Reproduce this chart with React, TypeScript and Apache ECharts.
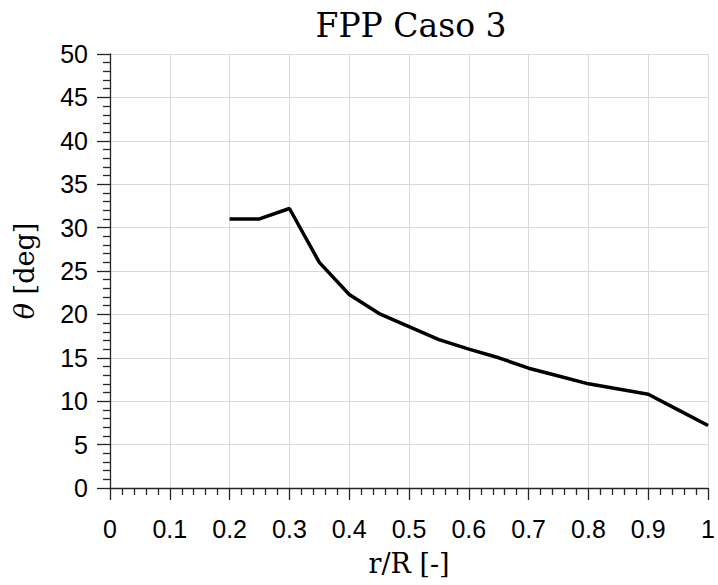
import React, { useEffect, useRef } from "react";
import * as echarts from "echarts";

const rR = [0.2, 0.25, 0.3, 0.35, 0.4, 0.45, 0.5, 0.55, 0.6, 0.65, 0.7, 0.75, 0.8, 0.85, 0.9, 0.95, 1.0];
const theta = [31.0, 31.0, 32.2, 26.0, 22.3, 20.1, 18.6, 17.1, 16.0, 15.0, 13.8, 12.9, 12.0, 11.4, 10.8, 9.0, 7.2];
const titleText = "FPP Caso 3";
const xName = "r/R [-]";

const AX = "#262626";
const GRID = "#d9d9d9";

export default function App() {
  const ref = useRef<HTMLDivElement>(null);
  useEffect(() => {
    if (!ref.current) return;
    const chart = echarts.init(ref.current, null, { renderer: "svg" });
    chart.setOption({
      animation: false,
      backgroundColor: "#ffffff",
      grid: { left: 110, right: 5, top: 54, bottom: 97, containLabel: false },
      graphic: [
        {
          type: "text",
          x: 411,
          y: 25,
          style: {
            text: titleText,
            fontFamily: "DejaVu Serif",
            fontSize: 33,
            fill: "#000",
            align: "center",
            verticalAlign: "middle",
            textAlign: "center",
            textVerticalAlign: "middle",
          },
        },
      ],
      xAxis: {
        type: "value",
        min: 0,
        max: 1,
        interval: 0.1,
        name: xName,
        nameLocation: "middle",
        nameGap: 62,
        nameTextStyle: { fontFamily: "DejaVu Serif", fontSize: 27, color: "#000" },
        axisLine: { show: true, lineStyle: { color: AX, width: 1.3 } },
        axisTick: { show: true, inside: false, length: 12, lineStyle: { color: AX, width: 1.3 } },
        minorTick: { show: true, splitNumber: 5, length: 7, lineStyle: { color: AX, width: 1.3 } },
        splitLine: { show: true, lineStyle: { color: GRID, width: 1 } },
        axisLabel: {
          margin: 28,
          fontFamily: "Liberation Sans",
          fontSize: 25,
          color: "#000",
          formatter: (v: number) => String(Math.round(v * 10) / 10),
        },
      },
      yAxis: {
        type: "value",
        min: 0,
        max: 50,
        interval: 5,
        name: "{i|θ} [deg]",
        nameLocation: "middle",
        nameGap: 72,
        nameRotate: 90,
        nameTextStyle: {
          fontFamily: "DejaVu Serif",
          fontSize: 27,
          color: "#000",
          rich: {
            i: { fontFamily: "DejaVu Serif", fontStyle: "italic", fontSize: 27, color: "#000" },
          },
        },
        axisLine: { show: true, lineStyle: { color: AX, width: 1.3 } },
        axisTick: { show: true, inside: false, length: 13, lineStyle: { color: AX, width: 1.3 } },
        minorTick: { show: true, splitNumber: 5, length: 7, lineStyle: { color: AX, width: 1.3 } },
        splitLine: { show: true, lineStyle: { color: GRID, width: 1 } },
        axisLabel: {
          margin: 22,
          fontFamily: "Liberation Sans",
          fontSize: 25,
          color: "#000",
        },
      },
      series: [
        {
          type: "line",
          data: rR.map((x, i) => [x, theta[i]]),
          showSymbol: false,
          lineStyle: { color: "#000", width: 3.5 },
          itemStyle: { color: "#000" },
        },
      ],
    });
    return () => chart.dispose();
  }, []);
  return <div ref={ref} style={{ width: 718, height: 585, position: "absolute", left: 0, top: 0 }} />;
}
